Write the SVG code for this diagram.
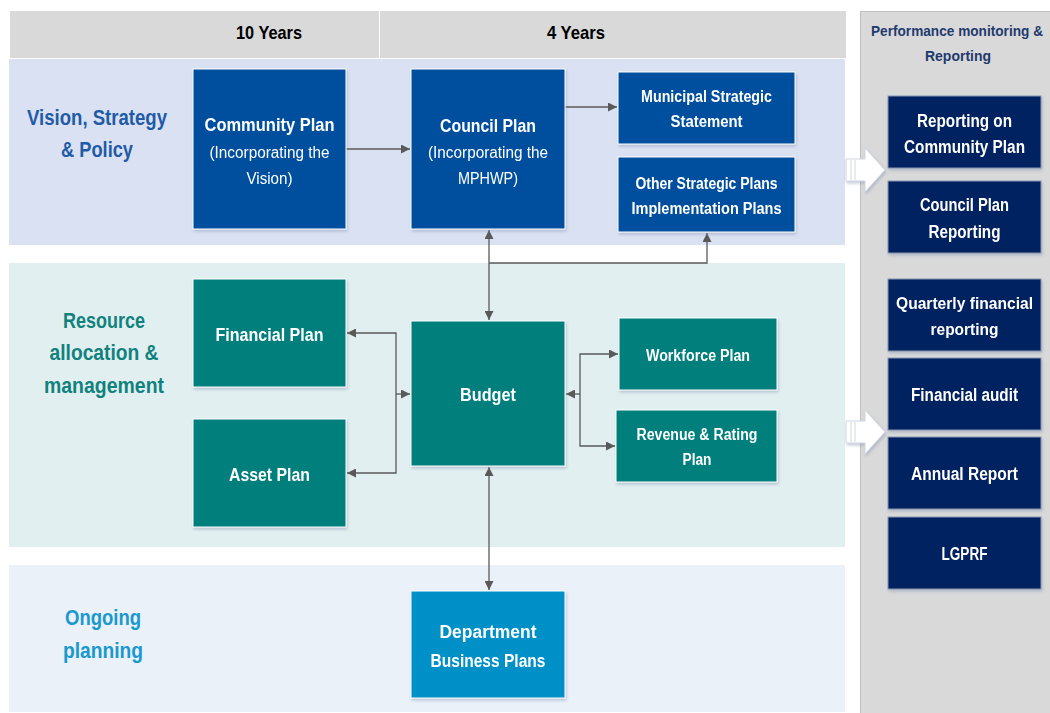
<svg xmlns="http://www.w3.org/2000/svg" width="1050" height="713" viewBox="0 0 1050 713">
<style>
text{font-family:"Liberation Sans",Arial,sans-serif;text-anchor:middle}
.b{font-weight:bold}
.w{fill:#fff}
.box{stroke:#ffffff;stroke-width:1}
.blue{fill:#004f9f}
.teal{fill:#007f7c}
.navy{fill:#002060;stroke:#8a96b0;stroke-width:1}
.con{fill:none;stroke:#595959;stroke-width:1.3}
</style>
<defs>
<marker id="ah" viewBox="0 0 10 10" refX="10" refY="5" markerWidth="9" markerHeight="9" markerUnits="userSpaceOnUse" orient="auto-start-reverse"><path d="M0,0 L10,5 L0,10 z" fill="#595959"/></marker>
<filter id="sh" x="-10%" y="-10%" width="130%" height="130%"><feDropShadow dx="1" dy="2" stdDeviation="1.5" flood-color="#7f8fb0" flood-opacity="0.45"/></filter>
</defs>
<rect width="1050" height="713" fill="#ffffff"/>
<!-- header -->
<g id="header">
<rect x="10" y="11" width="369" height="47" fill="#d9d9d9"/>
<rect x="380" y="11" width="466" height="47" fill="#d9d9d9"/>
<text x="269" y="39" class="b" font-size="19" fill="#000" textLength="66" lengthAdjust="spacingAndGlyphs">10 Years</text>
<text x="576" y="39" class="b" font-size="19" fill="#000" textLength="58" lengthAdjust="spacingAndGlyphs">4 Years</text>
</g>
<!-- bands -->
<g id="bands">
<rect x="9" y="59" width="836" height="186" fill="#dae1f2"/>
<rect x="9" y="263" width="836" height="284" fill="#e2eff0"/>
<rect x="9" y="565" width="836" height="147" fill="#eaf1f9"/>
<text x="97" y="125" class="b" font-size="22" fill="#1f5ba6" textLength="140" lengthAdjust="spacingAndGlyphs">Vision, Strategy</text>
<text x="97" y="157" class="b" font-size="22" fill="#1f5ba6" textLength="72" lengthAdjust="spacingAndGlyphs">&amp; Policy</text>
<text x="104" y="328" class="b" font-size="22" fill="#10827e" textLength="82" lengthAdjust="spacingAndGlyphs">Resource</text>
<text x="104" y="360" class="b" font-size="22" fill="#10827e" textLength="109" lengthAdjust="spacingAndGlyphs">allocation &amp;</text>
<text x="104" y="393" class="b" font-size="22" fill="#10827e" textLength="120" lengthAdjust="spacingAndGlyphs">management</text>
<text x="103" y="625" class="b" font-size="22" fill="#1a98cf" textLength="76" lengthAdjust="spacingAndGlyphs">Ongoing</text>
<text x="103" y="658" class="b" font-size="22" fill="#1a98cf" textLength="80" lengthAdjust="spacingAndGlyphs">planning</text>
</g>
<!-- right panel -->
<g id="panel">
<rect x="860.5" y="11.5" width="190" height="702" fill="#d9d9d9" stroke="#bfbfbf"/>
<text x="957" y="36" class="b" font-size="14" fill="#1f3a6e" textLength="172" lengthAdjust="spacingAndGlyphs">Performance monitoring &amp;</text>
<text x="958" y="61" class="b" font-size="15" fill="#1f3a6e" textLength="66" lengthAdjust="spacingAndGlyphs">Reporting</text>
</g>
<!-- block arrows -->
<g id="blockarrows" filter="url(#sh)">
<path d="M846,159 L865,159 L865,148 L885,170 L865,192 L865,181 L846,181 Z" fill="#ffffff" stroke="#d0d6e2" stroke-width="1"/>
<path d="M851,160 V180 M855,160 V180" stroke="#d0d6e2" stroke-width="1"/>
<path d="M846,421 L865,421 L865,410 L885,432 L865,454 L865,443 L846,443 Z" fill="#ffffff" stroke="#d0d6e2" stroke-width="1"/>
<path d="M851,422 V442 M855,422 V442" stroke="#d0d6e2" stroke-width="1"/>
</g>
<!-- connectors -->
<g id="connectors">
<path class="con" d="M346,149 H410" marker-end="url(#ah)"/>
<path class="con" d="M565,107 H617" marker-end="url(#ah)"/>
<path class="con" d="M489,230 V320" marker-start="url(#ah)" marker-end="url(#ah)"/>
<path class="con" d="M489,263 H707 V233" marker-end="url(#ah)"/>
<path class="con" d="M347,333 H396 V473 H347" marker-start="url(#ah)" marker-end="url(#ah)"/>
<path class="con" d="M396,394 H410" marker-end="url(#ah)"/>
<path class="con" d="M618,354 H580 V446 H615" marker-start="url(#ah)" marker-end="url(#ah)"/>
<path class="con" d="M580,394 H566" marker-end="url(#ah)"/>
<path class="con" d="M489,467 V590" marker-start="url(#ah)" marker-end="url(#ah)"/>
</g>
<!-- nodes -->
<g id="community" filter="url(#sh)">
<rect class="box blue" x="193" y="69" width="153" height="160"/>
<text x="269.5" y="131" class="b w" font-size="19" textLength="130" lengthAdjust="spacingAndGlyphs">Community Plan</text>
<text x="269.5" y="158" class="w" font-size="16" textLength="120" lengthAdjust="spacingAndGlyphs">(Incorporating the</text>
<text x="269.5" y="184" class="w" font-size="16" textLength="46" lengthAdjust="spacingAndGlyphs">Vision)</text>
</g>
<g id="council" filter="url(#sh)">
<rect class="box blue" x="411" y="69" width="154" height="160"/>
<text x="488" y="132" class="b w" font-size="19" textLength="96" lengthAdjust="spacingAndGlyphs">Council Plan</text>
<text x="488" y="158" class="w" font-size="16" textLength="120" lengthAdjust="spacingAndGlyphs">(Incorporating the</text>
<text x="488" y="184" class="w" font-size="16" textLength="60" lengthAdjust="spacingAndGlyphs">MPHWP)</text>
</g>
<g id="mss" filter="url(#sh)">
<rect class="box blue" x="618" y="72" width="177" height="72"/>
<text x="706.5" y="102" class="b w" font-size="16" textLength="131" lengthAdjust="spacingAndGlyphs">Municipal Strategic</text>
<text x="706.5" y="127" class="b w" font-size="16" textLength="72" lengthAdjust="spacingAndGlyphs">Statement</text>
</g>
<g id="other" filter="url(#sh)">
<rect class="box blue" x="618" y="157" width="177" height="75"/>
<text x="706.5" y="189" class="b w" font-size="16" textLength="142" lengthAdjust="spacingAndGlyphs">Other Strategic Plans</text>
<text x="706.5" y="214" class="b w" font-size="16" textLength="150" lengthAdjust="spacingAndGlyphs">Implementation Plans</text>
</g>
<g id="financial" filter="url(#sh)">
<rect class="box teal" x="193" y="279" width="153" height="108"/>
<text x="269.5" y="341" class="b w" font-size="19" textLength="108" lengthAdjust="spacingAndGlyphs">Financial Plan</text>
</g>
<g id="asset" filter="url(#sh)">
<rect class="box teal" x="193" y="419" width="153" height="108"/>
<text x="269.5" y="481" class="b w" font-size="19" textLength="81" lengthAdjust="spacingAndGlyphs">Asset Plan</text>
</g>
<g id="budget" filter="url(#sh)">
<rect class="box teal" x="411" y="321" width="154" height="145"/>
<text x="488" y="401" class="b w" font-size="19" textLength="56" lengthAdjust="spacingAndGlyphs">Budget</text>
</g>
<g id="workforce" filter="url(#sh)">
<rect class="box teal" x="619" y="318" width="158" height="72"/>
<text x="698" y="361" class="b w" font-size="16" textLength="104" lengthAdjust="spacingAndGlyphs">Workforce Plan</text>
</g>
<g id="revenue" filter="url(#sh)">
<rect class="box teal" x="616" y="410" width="161" height="72"/>
<text x="697" y="440" class="b w" font-size="16" textLength="121" lengthAdjust="spacingAndGlyphs">Revenue &amp; Rating</text>
<text x="697" y="465" class="b w" font-size="16" textLength="29" lengthAdjust="spacingAndGlyphs">Plan</text>
</g>
<g id="department" filter="url(#sh)">
<rect class="box" fill="#0090c8" x="411" y="591" width="154" height="107"/>
<text x="488" y="638" class="b w" font-size="18" textLength="97" lengthAdjust="spacingAndGlyphs">Department</text>
<text x="488" y="667" class="b w" font-size="18" textLength="115" lengthAdjust="spacingAndGlyphs">Business Plans</text>
</g>
<g id="rep-community" filter="url(#sh)">
<rect class="navy" x="888" y="96" width="153" height="72"/>
<text x="964.5" y="127" class="b w" font-size="18" textLength="95" lengthAdjust="spacingAndGlyphs">Reporting on</text>
<text x="964.5" y="153" class="b w" font-size="18" textLength="121" lengthAdjust="spacingAndGlyphs">Community Plan</text>
</g>
<g id="rep-council" filter="url(#sh)">
<rect class="navy" x="888" y="181" width="153" height="72"/>
<text x="964.5" y="211" class="b w" font-size="18" textLength="89" lengthAdjust="spacingAndGlyphs">Council Plan</text>
<text x="964.5" y="238" class="b w" font-size="18" textLength="72" lengthAdjust="spacingAndGlyphs">Reporting</text>
</g>
<g id="quarterly" filter="url(#sh)">
<rect class="navy" x="888" y="279" width="153" height="72"/>
<text x="964.5" y="309" class="b w" font-size="16" textLength="137" lengthAdjust="spacingAndGlyphs">Quarterly financial</text>
<text x="964.5" y="335" class="b w" font-size="17" textLength="68" lengthAdjust="spacingAndGlyphs">reporting</text>
</g>
<g id="audit" filter="url(#sh)">
<rect class="navy" x="888" y="358" width="153" height="72"/>
<text x="964.5" y="401" class="b w" font-size="18" textLength="107" lengthAdjust="spacingAndGlyphs">Financial audit</text>
</g>
<g id="annual" filter="url(#sh)">
<rect class="navy" x="888" y="437" width="153" height="72"/>
<text x="964.5" y="480" class="b w" font-size="18" textLength="107" lengthAdjust="spacingAndGlyphs">Annual Report</text>
</g>
<g id="lgprf" filter="url(#sh)">
<rect class="navy" x="888" y="517" width="153" height="72"/>
<text x="964.5" y="560" class="b w" font-size="18" textLength="46" lengthAdjust="spacingAndGlyphs">LGPRF</text>
</g>
</svg>
